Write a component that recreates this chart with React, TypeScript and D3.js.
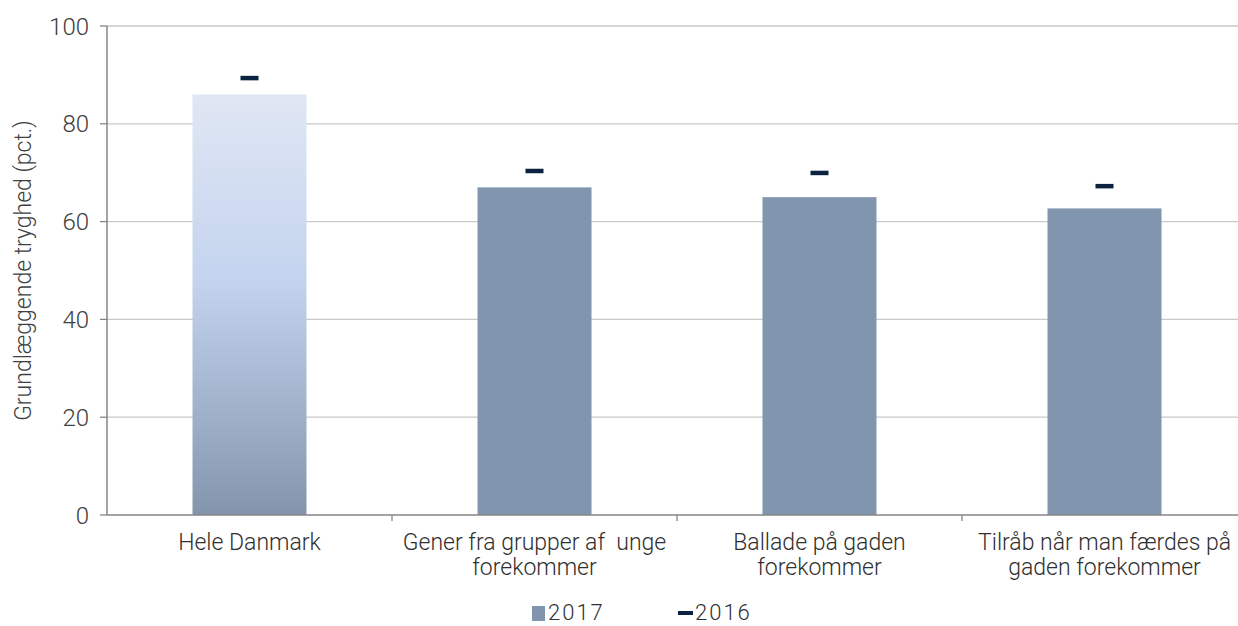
import React from 'react'
import * as d3 from 'd3'

const categories = [
  'Hele Danmark',
  'Gener fra grupper af unge forekommer',
  'Ballade på gaden forekommer',
  'Tilråb når man færdes på gaden forekommer',
]
const categoryLines = [
  ['Hele Danmark'],
  ['Gener fra grupper af  unge', 'forekommer'],
  ['Ballade på gaden', 'forekommer'],
  ['Tilråb når man færdes på', 'gaden forekommer'],
]
const values2017 = [86, 67, 65, 62.7]
const values2016 = [89.4, 70.4, 70, 67.3]
const yTicks = [0, 20, 40, 60, 80, 100]

const W = 1238
const H = 626
const margin = { top: 26, right: -9, bottom: 111, left: 107 }
const font = 'Roboto, "Open Sans", sans-serif'

const App: React.FC = () => {
  const x = d3.scaleBand<string>()
    .domain(categories)
    .range([margin.left, W - margin.right])
    .paddingInner(0.6)
    .paddingOuter(0.3)
  const band = (W - margin.right - margin.left) / categories.length
  const y = d3.scaleLinear().domain([0, 100]).range([H - margin.bottom, margin.top])
  const y0 = y(0)

  return (
    <svg width={W} height={H} style={{ position: 'absolute', left: 0, top: 0, background: '#fff' }} fontFamily={font}>
      <defs>
        <linearGradient id="g1" x1="0" y1="0" x2="0" y2="1">
          <stop offset="0%" stopColor="#e0e7f4" />
          <stop offset="45%" stopColor="#c3d3ee" />
          <stop offset="100%" stopColor="#8395ad" />
        </linearGradient>
      </defs>

      {/* gridlines */}
      {yTicks.filter(t => t > 0).map(t => (
        <line key={t} x1={margin.left} x2={W} y1={y(t)} y2={y(t)} stroke="#c9c9c9" strokeWidth={1.3} />
      ))}

      {/* bars */}
      {categories.map((c, i) => (
        <rect key={c} x={x(c)} y={y(values2017[i])} width={x.bandwidth()} height={y0 - y(values2017[i])}
          fill={i === 0 ? 'url(#g1)' : '#8195ae'} />
      ))}

      {/* 2016 markers */}
      {categories.map((c, i) => (
        <rect key={c} x={(x(c) as number) + x.bandwidth() / 2 - 9} y={y(values2016[i]) - 2} width={18} height={4.5} fill="#0c2340" />
      ))}

      {/* y axis */}
      <line x1={margin.left} x2={margin.left} y1={margin.top} y2={y0} stroke="#868686" strokeWidth={1.5} />
      {yTicks.map(t => (
        <g key={t}>
          <line x1={margin.left - 7} x2={margin.left} y1={y(t)} y2={y(t)} stroke="#868686" strokeWidth={1.3} />
          <text x={89} y={y(t)} dy="0.36em" textAnchor="end" fontSize={24} fill="#404040" fontWeight={300}>{t}</text>
        </g>
      ))}
      <text transform={`translate(31,${(margin.top + y0) / 2}) rotate(-90)`} textAnchor="middle" fontSize={23} fill="#404040" fontWeight={300}>
        Grundlæggende tryghed (pct.)
      </text>

      {/* x axis */}
      <line x1={margin.left} x2={W} y1={y0} y2={y0} stroke="#868686" strokeWidth={1.5} />
      {categories.slice(1).map((c, i) => {
        const tx = margin.left + band * (i + 1)
        return <line key={c} x1={tx} x2={tx} y1={y0} y2={y0 + 6} stroke="#868686" strokeWidth={1.3} />
      })}
      {categories.map((c, i) => (
        <text key={c} x={(x(c) as number) + x.bandwidth() / 2} y={550} textAnchor="middle" fontSize={23} fill="#303030" fontWeight={300} style={{ whiteSpace: 'pre' }}>
          {categoryLines[i].map((l, j) => (
            <tspan key={j} x={(x(c) as number) + x.bandwidth() / 2} dy={j === 0 ? 0 : 25}>{l}</tspan>
          ))}
        </text>
      ))}

      {/* legend */}
      <rect x={532} y={606} width={13} height={15} fill="#8195ae" />
      <text x={548} y={620} fontSize={22} letterSpacing={2} fill="#303030" fontWeight={300}>2017</text>
      <rect x={678} y={611} width={15} height={4} fill="#0c2340" />
      <text x={695} y={620} fontSize={22} letterSpacing={2} fill="#303030" fontWeight={300}>2016</text>
    </svg>
  )
}

export default App
